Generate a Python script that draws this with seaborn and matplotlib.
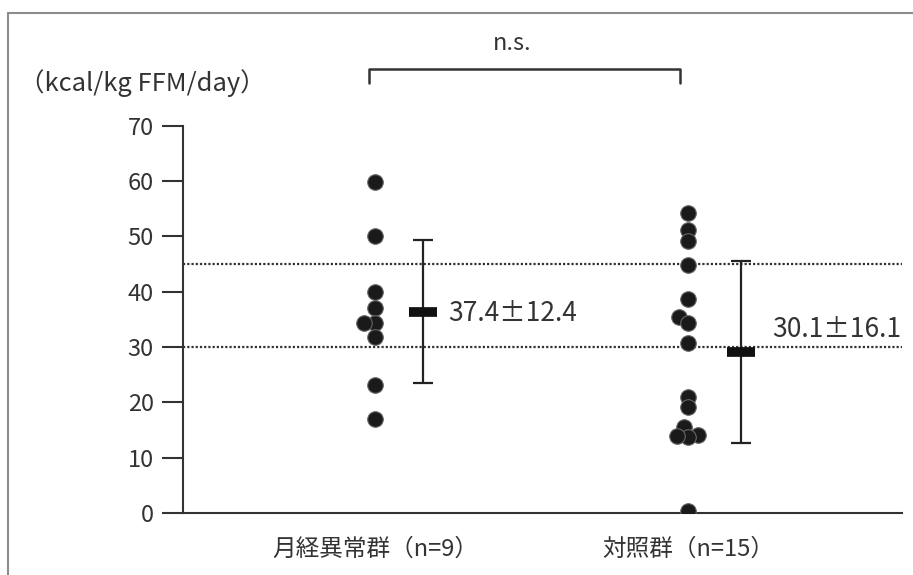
import numpy as np
import pandas as pd
import matplotlib
matplotlib.use('Agg')
import matplotlib.pyplot as plt
import seaborn as sns
from matplotlib.lines import Line2D

# ---- data ----
groups = ['月経異常群（n=9）', '対照群（n=15）']
group1_values = [59.8, 50.0, 40.0, 37.0, 34.3, 34.3, 31.9, 23.2, 17.0]
group2_values = [54.3, 51.1, 49.2, 44.8, 38.6, 35.5, 34.4, 30.7, 21.0, 19.1,
                 15.5, 14.1, 13.8, 13.9, 0.3]
stat_labels = ['37.4±12.4', '30.1±16.1']
reference_lines = [45, 30]
y_ticks = [0, 10, 20, 30, 40, 50, 60, 70]
unit_label = '（kcal/kg FFM/day）'
sig_label = 'n.s.'

# ---- style ----
sns.set_style('white')
plt.rcParams['font.family'] = ['Noto Sans CJK JP', 'DejaVu Sans']
TXT = '#333333'

df = pd.DataFrame({
    'group': [groups[0]] * len(group1_values) + [groups[1]] * len(group2_values),
    'value': group1_values + group2_values,
})

fig = plt.figure(figsize=(9.13, 5.75), dpi=100)
ax = fig.add_axes([183 / 913, 1 - 513 / 575, (902 - 183) / 913, (513 - 125.7) / 575])

for yv in reference_lines:
    ax.axhline(yv, color=TXT, lw=1.6, ls=(0, (1, 0.9)), zorder=1)

# swarm layout is computed by seaborn with a compact marker size,
# then the markers are drawn larger so that close points overlap (as in the original)
sns.swarmplot(data=df, x='group', y='value', order=groups, color='#1a1a1a',
              size=6.5, linewidth=0.8, edgecolor='#666666', ax=ax, zorder=3)
ax.set_ylim(0, 70)
ax.set_xlim(-0.613, 1.684)
fig.canvas.draw()
for coll in list(ax.collections):
    if 'draw' in coll.__dict__:
        del coll.draw
    coll.set_sizes([11.2 ** 2])

mean_offsets = [0.155, 0.17]
label_dx = [0.233, 0.268]
label_y_override = [None, 33.2]
for i, vals in enumerate([group1_values, group2_values]):
    m = np.mean(vals)
    s = np.std(vals, ddof=1)
    x = i + mean_offsets[i]
    ax.errorbar(x, m, yerr=s, fmt='none', ecolor='#222222', elinewidth=1.6,
                capsize=7, capthick=1.6, zorder=4)
    ax.plot(x, m, marker='_', ms=20, mew=7, color='#111111', zorder=5)
    ly = m - 0.3 if label_y_override[i] is None else label_y_override[i]
    ax.text(i + label_dx[i], ly, stat_labels[i], ha='left', va='center',
            fontsize=19, color=TXT)

ax.set_yticks(y_ticks)
ax.set_xlabel('')
ax.set_ylabel('')
ax.tick_params(axis='y', length=15, width=1.5, color=TXT, pad=6,
               labelsize=17, labelcolor=TXT, left=True)
ax.tick_params(axis='x', length=0, pad=18, labelsize=17, labelcolor=TXT)
for side in ['top', 'right']:
    ax.spines[side].set_visible(False)
for side in ['left', 'bottom']:
    ax.spines[side].set_color(TXT)
    ax.spines[side].set_linewidth(1.5)

# significance bracket
ax.plot([-0.02, -0.02, 0.975, 0.975], [77.7, 80.3, 80.3, 77.7], color=TXT,
        lw=1.8, clip_on=False)
ax.text(0.44, 84.8, sig_label, ha='center', va='center', fontsize=17, color=TXT,
        clip_on=False)

# unit label
fig.text(19 / 913, 1 - 83 / 575, unit_label, ha='left', va='center',
         fontsize=18.4, color=TXT)

# outer frame (top and left)
fig.add_artist(Line2D([8 / 913, 8 / 913], [0, 1 - 13 / 575], transform=fig.transFigure,
                      color='#8c8c8c', lw=1.5))
fig.add_artist(Line2D([8 / 913, 1], [1 - 13 / 575, 1 - 13 / 575], transform=fig.transFigure,
                      color='#8c8c8c', lw=1.5))

fig.savefig('out.png', dpi=100, facecolor='white')
